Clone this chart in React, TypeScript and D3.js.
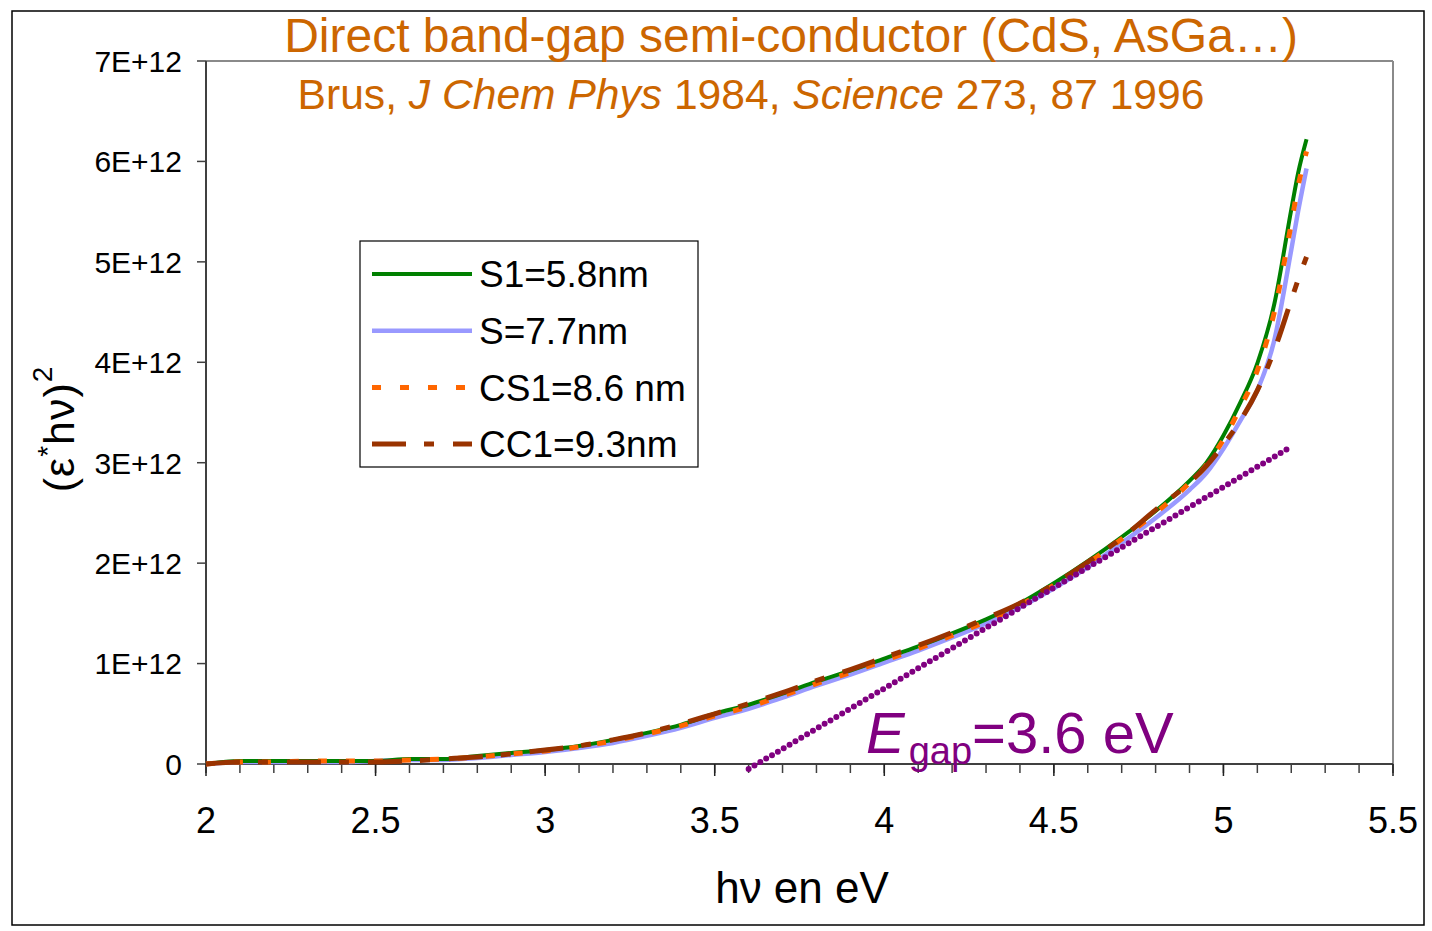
import React from "react";
import * as d3 from "d3";

// ---- data (energies in eV, values in units of 1E+12) ----
const ENERGY = [2.0, 2.1, 2.2, 2.3, 2.4, 2.5, 2.6, 2.7, 2.8, 2.9, 3.0, 3.1, 3.2, 3.3, 3.4, 3.5, 3.6, 3.7, 3.8, 3.9, 4.0, 4.1, 4.2, 4.3, 4.4, 4.5, 4.6, 4.7, 4.8, 4.9, 4.95, 5.0, 5.05, 5.1, 5.15, 5.2, 5.22, 5.245];
const S1_VALUES = [0, 0.03, 0.03, 0.03, 0.03, 0.03, 0.05, 0.05, 0.08, 0.11, 0.14, 0.18, 0.24, 0.31, 0.39, 0.5, 0.59, 0.7, 0.82, 0.93, 1.05, 1.17, 1.3, 1.44, 1.6, 1.8, 2.02, 2.26, 2.52, 2.82, 3.0, 3.27, 3.6, 3.99, 4.58, 5.52, 5.88, 6.22];
const S_VALUES = [0, 0.02, 0.02, 0.02, 0.02, 0.03, 0.04, 0.04, 0.06, 0.09, 0.12, 0.16, 0.21, 0.28, 0.36, 0.46, 0.55, 0.66, 0.78, 0.89, 1.01, 1.13, 1.26, 1.4, 1.56, 1.75, 1.96, 2.2, 2.45, 2.73, 2.9, 3.14, 3.42, 3.72, 4.22, 5.12, 5.5, 5.93];
const CS1_VALUES = [0, 0.02, 0.02, 0.03, 0.03, 0.03, 0.04, 0.05, 0.07, 0.1, 0.13, 0.17, 0.23, 0.3, 0.38, 0.48, 0.57, 0.68, 0.8, 0.91, 1.03, 1.15, 1.28, 1.42, 1.58, 1.78, 2.0, 2.24, 2.5, 2.8, 2.98, 3.23, 3.55, 3.92, 4.5, 5.38, 5.75, 6.1];
const CC1_VALUES = [0, 0.02, 0.02, 0.02, 0.02, 0.02, 0.03, 0.05, 0.07, 0.1, 0.14, 0.18, 0.24, 0.31, 0.4, 0.5, 0.6, 0.71, 0.83, 0.94, 1.06, 1.18, 1.31, 1.45, 1.6, 1.79, 2.01, 2.25, 2.53, 2.8, 2.97, 3.18, 3.42, 3.72, 4.12, 4.62, 4.82, 5.05];
const TANGENT_X = [3.6, 5.2];
const TANGENT_Y = [-0.05, 3.16];

const X_TICKS = [2, 2.5, 3, 3.5, 4, 4.5, 5, 5.5];
const X_TICK_LABELS = ["2", "2.5", "3", "3.5", "4", "4.5", "5", "5.5"];
const Y_TICKS = [0, 1, 2, 3, 4, 5, 6, 7];
const Y_TICK_LABELS = ["0", "1E+12", "2E+12", "3E+12", "4E+12", "5E+12", "6E+12", "7E+12"];

const SERIES = [
  { name: "S1=5.8nm", values: S1_VALUES, color: "#008000", width: 4, dash: "" },
  { name: "S=7.7nm", values: S_VALUES, color: "#9999FF", width: 4.5, dash: "" },
  { name: "CS1=8.6 nm", values: CS1_VALUES, color: "#FF6600", width: 5, dash: "9,19" },
  { name: "CC1=9.3nm", values: CC1_VALUES, color: "#993300", width: 5, dash: "34,18,10,19" },
];
const DRAW_ORDER = [1, 0, 2, 3];

const FONT = "'Liberation Sans', Arial, sans-serif";

export default function App() {
  const W = 1432, H = 931;
  const x = d3.scaleLinear().domain([2, 5.5]).range([206, 1393]);
  const y = d3.scaleLinear().domain([0, 7]).range([764, 61]);
  const line = d3
    .line<[number, number]>()
    .x((d) => x(d[0]))
    .y((d) => y(d[1]))
    .curve(d3.curveMonotoneX);
  const minorTicks = d3.range(20, 56).map((v) => v / 10);
  const tangent = TANGENT_X.map((v, i) => [v, TANGENT_Y[i]] as [number, number]);

  return (
    <svg width={W} height={H} style={{ position: "absolute", left: 0, top: 0, background: "#fff" }} fontFamily={FONT}>
      <rect x={0} y={0} width={W} height={H} fill="#fff" />
      <rect x={12} y={11} width={1412} height={914} fill="none" stroke="#000" strokeWidth={1.5} />
      {/* plot area frame */}
      <line x1={x(2)} x2={x(5.5)} y1={y(7)} y2={y(7)} stroke="#8a8a8a" strokeWidth={2} />
      <line x1={x(5.5)} x2={x(5.5)} y1={y(7)} y2={y(0)} stroke="#8a8a8a" strokeWidth={2} />
      {/* axes */}
      <line x1={x(2)} x2={x(2)} y1={y(7)} y2={y(0)} stroke="#404040" strokeWidth={2} />
      <line x1={x(2)} x2={x(5.5)} y1={y(0)} y2={y(0)} stroke="#404040" strokeWidth={2} />
      {Y_TICKS.map((t, i) => (
        <g key={"yt" + t}>
          <line x1={x(2) - 9} x2={x(2)} y1={y(t)} y2={y(t)} stroke="#404040" strokeWidth={1.5} />
          <text x={182} y={y(t)} dy="0.36em" textAnchor="end" fontSize={30} fill="#000">
            {Y_TICK_LABELS[i]}
          </text>
        </g>
      ))}
      {minorTicks.map((t) => (
        <line key={"xm" + t} x1={x(t)} x2={x(t)} y1={y(0)} y2={y(0) + 9} stroke="#404040" strokeWidth={1.5} />
      ))}
      {X_TICKS.map((t, i) => (
        <g key={"xt" + t}>
          <line x1={x(t)} x2={x(t)} y1={y(0)} y2={y(0) + 12} stroke="#202020" strokeWidth={1.5} />
          <text x={x(t)} y={833} textAnchor="middle" fontSize={36} fill="#000">
            {X_TICK_LABELS[i]}
          </text>
        </g>
      ))}
      {/* series */}
      {DRAW_ORDER.map((k) => {
        const s = SERIES[k];
        const pts = ENERGY.map((e, i) => [e, s.values[i]] as [number, number]);
        return (
          <path
            key={s.name}
            d={line(pts) || ""}
            fill="none"
            stroke={s.color}
            strokeWidth={s.width}
            strokeDasharray={s.dash || undefined}
          />
        );
      })}
      <path
        d={line(tangent) || ""}
        fill="none"
        stroke="#800080"
        strokeWidth={6}
        strokeLinecap="round"
        strokeDasharray="0,6.8"
      />
      {/* titles */}
      <text x={791} y={52} textAnchor="middle" fontSize={48} fill="#CC6600">
        Direct band-gap semi-conductor (CdS, AsGa…)
      </text>
      <text x={751} y={109} textAnchor="middle" fontSize={42.6} fill="#CC6600">
        Brus, <tspan fontStyle="italic">J Chem Phys</tspan> 1984, <tspan fontStyle="italic">Science</tspan> 273, 87 1996
      </text>
      {/* axis labels */}
      <text x={802} y={903} textAnchor="middle" fontSize={44} fill="#000">
        hν en eV
      </text>
      <text transform="translate(74,429) rotate(-90)" textAnchor="middle" fontSize={43} fill="#000" letterSpacing={1}>
        (ε<tspan dy={-17} fontSize={28}>*</tspan>
        <tspan dy={17}>hν)</tspan>
        <tspan dy={-22} fontSize={28}>2</tspan>
      </text>
      {/* Egap annotation */}
      <text x={866} y={753} fontSize={58} fill="#800080">
        <tspan fontStyle="italic">E</tspan>
        <tspan dx={4} dy={11} fontSize={38}>gap</tspan>
        <tspan dy={-11}>=3.6 eV</tspan>
      </text>
      {/* legend */}
      <rect x={360} y={241} width={338} height={226} fill="#fff" stroke="#000" strokeWidth={1.2} />
      {SERIES.map((s, i) => {
        const ly = 274 + i * 56.7;
        return (
          <g key={"lg" + s.name}>
            <line x1={372} x2={472} y1={ly} y2={ly} stroke={s.color} strokeWidth={s.width} strokeDasharray={s.dash || undefined} />
            <text x={479} y={ly} dy="0.36em" fontSize={37} fill="#000">
              {s.name}
            </text>
          </g>
        );
      })}
    </svg>
  );
}
